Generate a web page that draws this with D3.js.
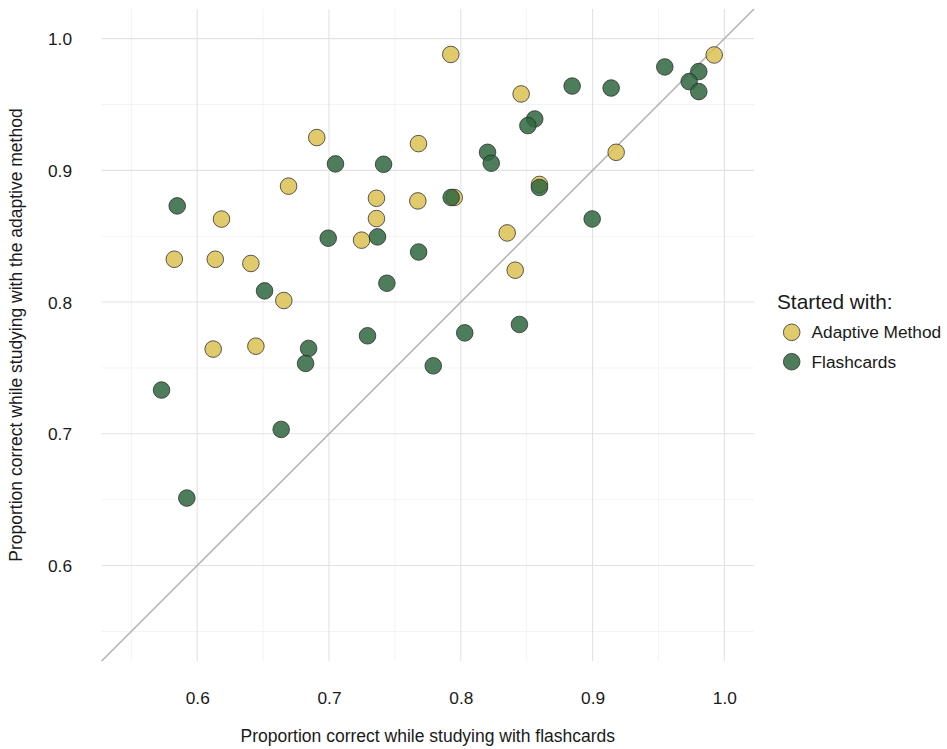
<!DOCTYPE html>
<html>
<head>
<meta charset="utf-8">
<script src="https://cdn.jsdelivr.net/npm/d3@7"></script>
<style>
  html, body { margin: 0; padding: 0; background: #ffffff; }
  text { font-family: "Liberation Sans", Arial, Helvetica, sans-serif; fill: #1a1a1a; }
</style>
</head>
<body>
<svg id="chart" width="947" height="749"></svg>
<script>
// ---- data ----
const adaptiveX = [0.6184, 0.6693, 0.6907, 0.7924, 0.8458, 0.7679, 0.9179, 0.7360, 0.7674, 0.7950, 0.8597,
                   0.7360, 0.8352, 0.7247, 0.9923, 0.5826, 0.6137, 0.6407, 0.6657, 0.6121, 0.6445, 0.8413];
const adaptiveY = [0.8630, 0.8880, 0.9249, 0.9880, 0.9580, 0.9203, 0.9137, 0.8788, 0.8768, 0.8794, 0.8893,
                   0.8634, 0.8525, 0.8470, 0.9876, 0.8325, 0.8325, 0.8293, 0.8012, 0.7643, 0.7665, 0.8242];
const flashX = [0.5848, 0.7927, 0.8597, 0.8845, 0.9141, 0.8561, 0.8509, 0.8203, 0.8231, 0.7049, 0.7414,
                0.8997, 0.6994, 0.7368, 0.9548, 0.9806, 0.9733, 0.9806, 0.6511, 0.7439, 0.7292, 0.6845,
                0.6822, 0.5729, 0.6637, 0.7680, 0.8030, 0.8445, 0.7791, 0.5921];
const flashY = [0.8730, 0.8794, 0.8870, 0.9640, 0.9625, 0.9390, 0.9340, 0.9137, 0.9054, 0.9049, 0.9046,
                0.8631, 0.8485, 0.8495, 0.9785, 0.9750, 0.9674, 0.9598, 0.8085, 0.8143, 0.7744, 0.7648,
                0.7534, 0.7332, 0.7033, 0.8380, 0.7766, 0.7830, 0.7516, 0.6512];
const groups = ["Adaptive Method", "Flashcards"];
const majorTicks = [0.6, 0.7, 0.8, 0.9, 1.0];
const minorTicks = [0.55, 0.65, 0.75, 0.85, 0.95];
const limits = [0.55, 1.0];

// ---- layout ----
const svg = d3.select("#chart");
const panel = { left: 101.7, right: 754, top: 9, bottom: 661 };
const pad = (limits[1] - limits[0]) * 0.05;
const x = d3.scaleLinear().domain([limits[0] - pad, limits[1] + pad]).range([panel.left, panel.right]);
const y = d3.scaleLinear().domain([limits[0] - pad, limits[1] + pad]).range([panel.bottom, panel.top]);
const color = d3.scaleOrdinal().domain(groups).range(["#DBC152", "#2F6640"]);

const g = svg.append("g");

// minor grid
g.selectAll("line.minor-x").data(minorTicks).join("line")
  .attr("x1", d => x(d)).attr("x2", d => x(d)).attr("y1", panel.top).attr("y2", panel.bottom)
  .attr("stroke", "#f3f3f3").attr("stroke-width", 1);
g.selectAll("line.minor-y").data(minorTicks).join("line")
  .attr("y1", d => y(d)).attr("y2", d => y(d)).attr("x1", panel.left).attr("x2", panel.right)
  .attr("stroke", "#f3f3f3").attr("stroke-width", 1);
// major grid
g.selectAll("line.major-x").data(majorTicks).join("line")
  .attr("x1", d => x(d)).attr("x2", d => x(d)).attr("y1", panel.top).attr("y2", panel.bottom)
  .attr("stroke", "#e2e2e2").attr("stroke-width", 1.1);
g.selectAll("line.major-y").data(majorTicks).join("line")
  .attr("y1", d => y(d)).attr("y2", d => y(d)).attr("x1", panel.left).attr("x2", panel.right)
  .attr("stroke", "#e2e2e2").attr("stroke-width", 1.1);

// identity line
const dom = x.domain();
g.append("line")
  .attr("x1", x(dom[0])).attr("y1", y(dom[0]))
  .attr("x2", x(dom[1])).attr("y2", y(dom[1]))
  .attr("stroke", "#b5b5b5").attr("stroke-width", 1.6);

// axes (text only)
const xAxis = d3.axisBottom(x).tickValues(majorTicks).tickFormat(d3.format(".1f")).tickSize(0).tickPadding(0);
const xa = svg.append("g").attr("transform", `translate(0, ${panel.bottom})`).call(xAxis);
xa.select(".domain").remove();
xa.selectAll("text").attr("y", 43).attr("dy", 0).style("font-size", "17.3px").style("fill", "#1a1a1a")
  .style("font-family", "'Liberation Sans', Arial, sans-serif");

const yAxis = d3.axisLeft(y).tickValues(majorTicks).tickFormat(d3.format(".1f")).tickSize(0).tickPadding(0);
const ya = svg.append("g").attr("transform", `translate(72, 0)`).call(yAxis);
ya.select(".domain").remove();
ya.selectAll("text").attr("x", 0).attr("dy", "0.35em").style("font-size", "17.3px").style("fill", "#1a1a1a")
  .style("font-family", "'Liberation Sans', Arial, sans-serif");

// axis titles
svg.append("text")
  .attr("x", (panel.left + panel.right) / 2).attr("y", 742)
  .attr("text-anchor", "middle").style("font-size", "17.5px")
  .text("Proportion correct while studying with flashcards");
svg.append("text")
  .attr("transform", `translate(22, ${(panel.top + panel.bottom) / 2}) rotate(-90)`)
  .attr("text-anchor", "middle").style("font-size", "17.5px")
  .text("Proportion correct while studying with the adaptive method");

// points
const adaptive = adaptiveX.map((v, i) => ({ x: v, y: adaptiveY[i], group: groups[0] }));
const flash = flashX.map((v, i) => ({ x: v, y: flashY[i], group: groups[1] }));
const pts = adaptive.concat(flash);
g.selectAll("circle.pt").data(pts).join("circle")
  .attr("class", "pt")
  .attr("cx", d => x(d.x)).attr("cy", d => y(d.y)).attr("r", 8.3)
  .attr("fill", d => color(d.group)).attr("fill-opacity", 0.85)
  .attr("stroke", "#2a2a2a").attr("stroke-opacity", 0.85).attr("stroke-width", 0.9);

// legend
const leg = svg.append("g");
leg.append("text").attr("x", 777).attr("y", 309).style("font-size", "20.8px").text("Started with:");
const items = leg.selectAll("g.item").data(groups).join("g")
  .attr("transform", (d, i) => `translate(0, ${332.3 + i * 29.4})`);
items.append("circle").attr("cx", 791.7).attr("cy", 0).attr("r", 8.3)
  .attr("fill", d => color(d)).attr("fill-opacity", 0.85)
  .attr("stroke", "#2a2a2a").attr("stroke-opacity", 0.85).attr("stroke-width", 0.9);
items.append("text").attr("x", 811.5).attr("y", 0).attr("dy", "0.35em")
  .style("font-size", "17.3px").text(d => d);
</script>
</body>
</html>
